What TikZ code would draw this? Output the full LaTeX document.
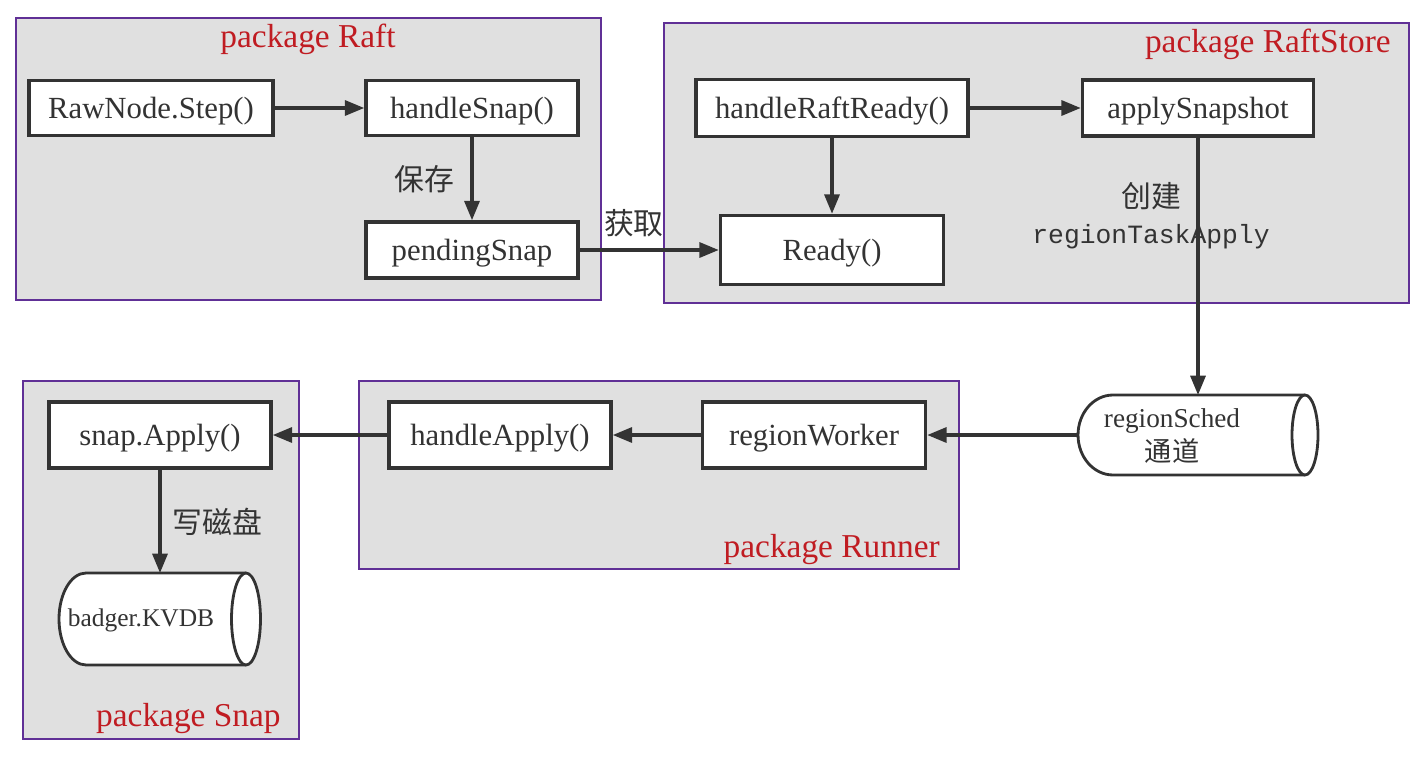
\documentclass[tikz,border=0pt]{standalone}
\usepackage{fontspec}
\setmainfont{Liberation Serif}
\setmonofont{Liberation Mono}
\newfontfamily\cjk{Noto Sans CJK SC}
\usepackage{xcolor}
\usetikzlibrary{positioning, arrows.meta}

\definecolor{pkgfill}{RGB}{224,224,224}
\definecolor{pkgline}{RGB}{96,48,150}
\definecolor{pkgred}{RGB}{192,28,34}
\definecolor{ink}{RGB}{51,51,51}

\begin{document}
\begin{tikzpicture}[x=0.02cm, y=-0.02cm]
    % Styles for frames, boxes and arrows
    \tikzstyle{pkg}=[draw=pkgline, fill=pkgfill, line width=0.85pt]
    \tikzstyle{pkg title}=[text=pkgred, font=\fontsize{19}{22}\selectfont, inner sep=0pt]
    \tikzstyle{box}=[draw=ink, fill=white, line width=2pt, text=ink, font=\fontsize{17.5}{20}\selectfont, inner sep=0pt, text height=12pt, text depth=0pt]
    \tikzstyle{cyl}=[draw=ink, fill=white, line width=1.6pt]
    \tikzstyle{hole}=[inner sep=0pt, outer sep=0pt]
    \tikzstyle{arr}=[draw=ink, line width=1.9pt, -{Triangle[length=11pt,width=8.5pt]}]
    \tikzstyle{lbl}=[text=ink, font=\cjk\fontsize{17}{20}\selectfont]

    \useasboundingbox (0,0) rectangle (1425,761);

    % Draw the package frames
    \draw[pkg] (16,18) rectangle (601,300);
    \draw[pkg] (664,23) rectangle (1409,303);
    \draw[pkg] (359,381) rectangle (959,569);
    \draw[pkg] (23,381) rectangle (299,739);
    \node[pkg title] (traft) at (308,39) {package Raft};
    \node[pkg title, anchor=east] (tstore) at (1391,44) {package RaftStore};
    \node[pkg title, anchor=east] (trunner) at (940,550) {package Runner};
    \node[pkg title, anchor=east] (tsnap) at (281,719) {package Snap};

    % Draw the two cylinders
    \draw[cyl] (1305,395) -- (1113,395) arc[start angle=90, end angle=270, x radius=0.7cm, y radius=0.8cm] -- (1305,475);
    \draw[cyl] (1305,435) ellipse [x radius=0.26cm, y radius=0.8cm];
    \node[hole, minimum width=4.8cm, minimum height=1.6cm] (sched) at (1198,435) {};
    \node[text=ink, align=center, font=\fontsize{15.5}{19}\selectfont] (schedtxt) at (1172,436) {regionSched\\{\cjk 通道}};

    \draw[cyl] (246,573) -- (86,573) arc[start angle=90, end angle=270, x radius=0.54cm, y radius=0.92cm] -- (246,665);
    \draw[cyl] (246,619) ellipse [x radius=0.29cm, y radius=0.92cm];
    \node[hole, minimum width=4.02cm, minimum height=1.84cm] (kv) at (160,619) {};
    \node[text=ink, font=\fontsize{14.5}{17}\selectfont] (kvtxt) at (141,620) {badger.KVDB};

    % Draw the boxes
    \node[box, minimum width=4.88cm, minimum height=1.1cm] (step) at (151,108) {RawNode.Step()};
    \node[box, minimum width=4.24cm, minimum height=1.1cm] (hsnap) at (472,108) {handleSnap()};
    \node[box, minimum width=4.24cm, minimum height=1.12cm] (pend) at (472,250) {pendingSnap};
    \node[box, minimum width=5.44cm, minimum height=1.14cm] (hready) at (832,108) {handleRaftReady()};
    \node[box, minimum width=4.62cm, minimum height=1.12cm] (asnap) at (1198,108) {applySnapshot};
    \node[box, minimum width=4.46cm, minimum height=1.38cm] (ready) at (832,250) {Ready()};
    \node[box, minimum width=4.44cm, minimum height=1.32cm] (happly) at (500,435) {handleApply()};
    \node[box, minimum width=4.46cm, minimum height=1.32cm] (worker) at (814,435) {regionWorker};
    \node[box, minimum width=4.44cm, minimum height=1.32cm] (sapply) at (160,435) {snap.Apply()};

    % Texts beside the applySnapshot arrow
    \node[lbl] (mk) at (1151,196) {创建};
    \node[text=ink, font=\ttfamily\fontsize{15}{18}\selectfont] (mktask) at (1151,237) {regionTaskApply};

    % Draw the arrows
    \draw[arr] (step) -- (hsnap);
    \draw[arr] (hsnap) -- node[lbl, left=6pt] {保存} (pend);
    \draw[arr] (pend) -- node[lbl, pos=0.39, above=3pt] {获取} (ready);
    \draw[arr] (hready) -- (asnap);
    \draw[arr] (hready) -- (ready);
    \draw[arr] (asnap) -- (sched);
    \draw[arr] (sched) -- (worker);
    \draw[arr] (worker) -- (happly);
    \draw[arr] (happly) -- (sapply);
    \draw[arr] (sapply) -- node[lbl, right=3pt] {写磁盘} (kv);

\end{tikzpicture}
\end{document}
